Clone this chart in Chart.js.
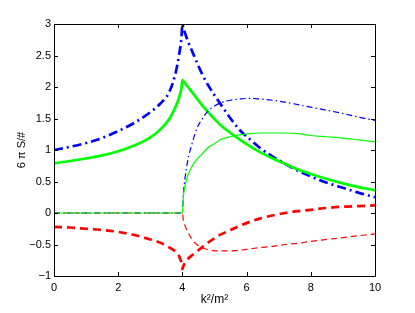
<!DOCTYPE html>
<html>
<head>
<meta charset="utf-8">
<script src="https://cdn.jsdelivr.net/npm/chart.js@4.4.1/dist/chart.umd.min.js"></script>
<style>
  html, body { margin: 0; padding: 0; background: #fff; }
</style>
</head>
<body>
<canvas id="chart" width="415" height="313"></canvas>
<script>
// k^2/m^2 sample points shared by all curves
const xs = [0, 0.5, 1, 1.5, 2, 2.5, 3, 3.3, 3.6, 3.8, 3.9, 3.97, 4,
            4.03, 4.08, 4.17, 4.3, 4.45, 4.6, 4.8, 5, 5.2, 5.5, 5.8, 6.1, 6.4,
            6.8, 7.2, 7.6, 8, 8.5, 9, 9.5, 10];

// thick curves
const blueThick = [1.00, 1.05, 1.11, 1.19, 1.30, 1.43, 1.60, 1.73, 1.93, 2.25, 2.52, 2.78, 3.00,
                   2.94, 2.86, 2.73, 2.57, 2.39, 2.22, 2.03, 1.87, 1.72, 1.50, 1.31, 1.17, 1.04,
                   0.90, 0.78, 0.67, 0.58, 0.48, 0.40, 0.32, 0.25];
const greenThick = [0.79, 0.825, 0.865, 0.915, 0.98, 1.07, 1.20, 1.32, 1.50, 1.70, 1.84, 1.98, 2.11,
                    2.09, 2.06, 2.00, 1.92, 1.82, 1.72, 1.60, 1.49, 1.39, 1.27, 1.16, 1.06, 0.97,
                    0.87, 0.78, 0.69, 0.62, 0.54, 0.47, 0.41, 0.36];
const redThick = [-0.22, -0.23, -0.25, -0.27, -0.30, -0.35, -0.42, -0.47, -0.55, -0.62, -0.69, -0.79, -0.89,
                  -0.84, -0.79, -0.73, -0.67, -0.61, -0.55, -0.47, -0.40, -0.34, -0.27, -0.20, -0.14, -0.09,
                  -0.04, 0.00, 0.03, 0.05, 0.08, 0.10, 0.11, 0.12];

// thin curves (zero below threshold)
const blueThin = [0, 0, 0, 0, 0, 0, 0, 0, 0, 0, 0, 0, 0,
                  0.30, 0.55, 0.84, 1.10, 1.34, 1.48, 1.62, 1.70, 1.75, 1.79, 1.81, 1.82, 1.81,
                  1.79, 1.76, 1.72, 1.68, 1.63, 1.58, 1.52, 1.47];
const greenThin = [0, 0, 0, 0, 0, 0, 0, 0, 0, 0, 0, 0, 0,
                   0.26, 0.43, 0.60, 0.74, 0.85, 0.93, 1.04, 1.10, 1.17, 1.21, 1.24, 1.26, 1.27,
                   1.27, 1.27, 1.26, 1.23, 1.21, 1.19, 1.16, 1.13];
const redThin = [0, 0, 0, 0, 0, 0, 0, 0, 0, 0, 0, 0, 0,
                 -0.12, -0.20, -0.30, -0.42, -0.50, -0.55, -0.58, -0.60, -0.60, -0.60, -0.59, -0.57, -0.55,
                 -0.53, -0.50, -0.48, -0.45, -0.42, -0.39, -0.36, -0.33];

const xTicks = [0, 2, 4, 6, 8, 10];
const yTicks = [-1, -0.5, 0, 0.5, 1, 1.5, 2, 2.5, 3];

const FONT = 'Liberation Sans, Arial, Helvetica, sans-serif';

function pts(ys) {
    return xs.map((x, i) => ({ x: x, y: ys[i] }));
}

function series(ys, color, width, dash) {
    return {
        data: pts(ys),
        borderColor: color,
        borderWidth: width,
        borderDash: dash,
        pointRadius: 0,
        fill: false,
        cubicInterpolationMode: 'monotone'
    };
}

// MATLAB style box with inward ticks
const boxPlugin = {
    id: 'box',
    afterDraw(chart) {
        const ctx = chart.ctx;
        const a = chart.chartArea;
        const sx = chart.scales.x, sy = chart.scales.y;
        ctx.save();
        ctx.strokeStyle = '#000';
        ctx.lineWidth = 1;
        ctx.beginPath();
        ctx.rect(Math.round(a.left) + 0.5, Math.round(a.top) + 0.5,
                 Math.round(a.right - a.left), Math.round(a.bottom - a.top));
        const len = 4;
        xTicks.forEach(v => {
            const p = Math.round(sx.getPixelForValue(v)) + 0.5;
            ctx.moveTo(p, a.bottom); ctx.lineTo(p, a.bottom - len);
            ctx.moveTo(p, a.top); ctx.lineTo(p, a.top + len);
        });
        yTicks.forEach(v => {
            const p = Math.round(sy.getPixelForValue(v)) + 0.5;
            ctx.moveTo(a.left, p); ctx.lineTo(a.left + len, p);
            ctx.moveTo(a.right, p); ctx.lineTo(a.right - len, p);
        });
        ctx.stroke();
        ctx.restore();
    }
};

new Chart(document.getElementById('chart'), {
    type: 'line',
    data: {
        datasets: [
            series(greenThin, '#00ff00', 1.2, []),
            series(blueThin, '#0000ff', 1.2, [6, 3, 1.5, 3]),
            series(redThin, '#ff0000', 1.2, [6, 4]),
            series(greenThick, '#00ff00', 2.7, []),
            series(blueThick, '#0000ff', 2.7, [9, 4, 2, 4]),
            series(redThick, '#ff0000', 2.7, [8, 5])
        ]
    },
    options: {
        responsive: false,
        animation: false,
        devicePixelRatio: 1,
        layout: { padding: { left: 0, top: 24, right: 40, bottom: 0 } },
        plugins: { legend: { display: false }, tooltip: { enabled: false } },
        scales: {
            x: {
                type: 'linear',
                min: 0, max: 10,
                afterBuildTicks: s => { s.ticks = xTicks.map(v => ({ value: v })); },
                afterFit: s => { s.height = 37; },
                grid: { display: false, drawTicks: false },
                border: { display: false },
                ticks: { color: '#000', padding: 5, autoSkip: false, maxRotation: 0,
                         font: { family: FONT, size: 11 } },
                title: { display: true, text: 'k²/m²', color: '#000', padding: { bottom: 6 },
                         font: { family: FONT, size: 12 } }
            },
            y: {
                type: 'linear',
                min: -1, max: 3,
                afterBuildTicks: s => { s.ticks = yTicks.map(v => ({ value: v })); },
                afterFit: s => { s.width = 54; },
                grid: { display: false, drawTicks: false },
                border: { display: false },
                ticks: { color: '#000', padding: 3, autoSkip: false,
                         font: { family: FONT, size: 11 },
                         callback: v => String(v).replace('-', '\u2212') },
                title: { display: true, text: '6 π S/#', color: '#000', padding: { top: 15 },
                         font: { family: FONT, size: 11 } }
            }
        }
    },
    plugins: [boxPlugin]
});
</script>
</body>
</html>
